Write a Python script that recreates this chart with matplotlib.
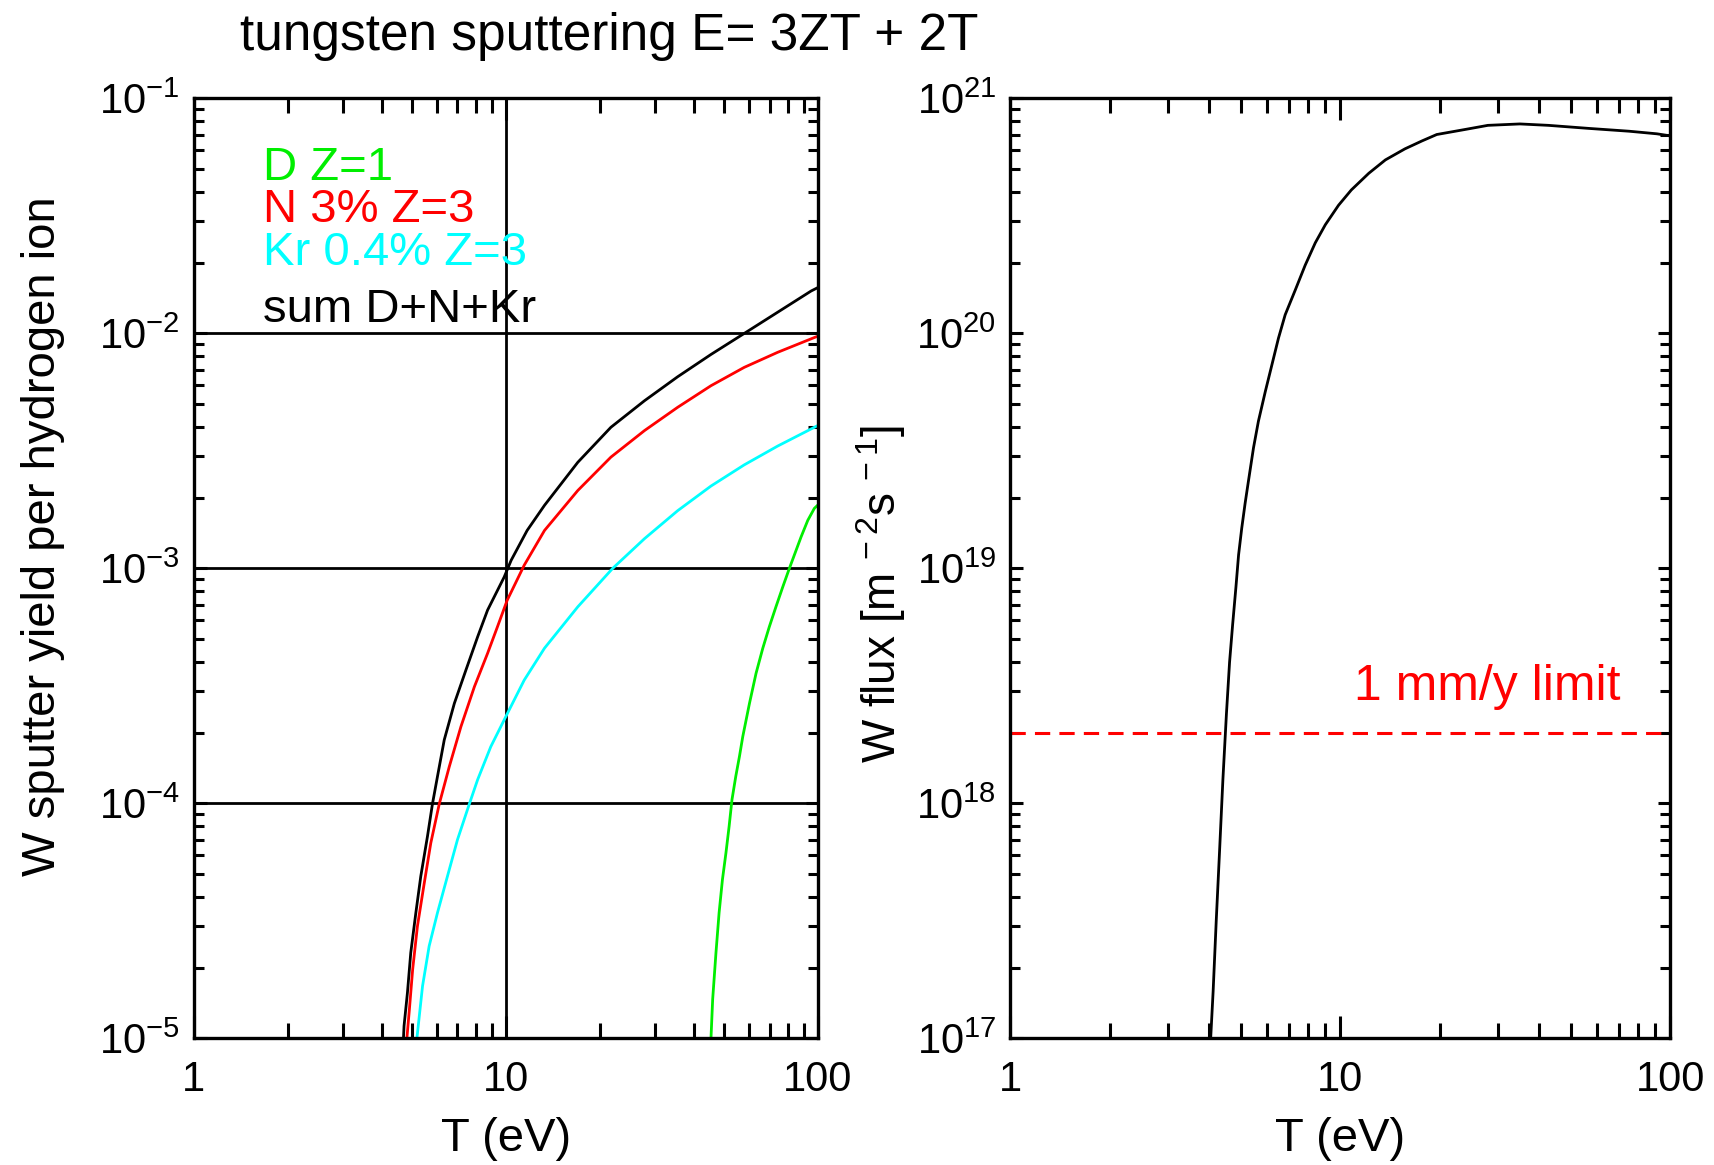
import numpy as np
import matplotlib
matplotlib.use('Agg')
import matplotlib.pyplot as plt
from matplotlib.ticker import LogLocator, NullFormatter

plt.rcParams['font.family'] = ['Liberation Sans', 'DejaVu Sans']
plt.rcParams['mathtext.default'] = 'regular'

# ---- data ----
# W sputter yield per hydrogen ion vs T (eV), log10 of yield
T_sum = [4.70, 4.72, 4.84, 4.96, 5.15, 5.34, 5.61, 5.82, 6.04, 6.35, 6.84, 7.45, 8.12, 8.74, 9.88,
         10.4, 11.7, 13.3, 17.0, 21.7, 27.8, 35.5, 45.4, 58.1, 95, 100]
logY_sum = [-5.0, -4.948, -4.806, -4.636, -4.466, -4.311, -4.141, -4.003, -3.886, -3.730, -3.575, -3.433,
            -3.292, -3.178, -3.037, -2.966, -2.839, -2.732, -2.549, -2.400, -2.287, -2.185, -2.090, -2.0,
            -1.820, -1.805]

T_N = [4.82, 4.91, 5.03, 5.21, 5.48, 5.75, 6.12, 6.59, 7.18, 7.93, 8.74, 9.4, 10.1, 11.45, 13.3,
       17.0, 21.7, 27.8, 35.5, 45.4, 58.0, 74.2, 97.3, 100]
logY_N = [-5.0, -4.877, -4.707, -4.523, -4.339, -4.169, -4.003, -3.844, -3.674, -3.504, -3.362, -3.249,
          -3.136, -2.987, -2.839, -2.669, -2.527, -2.414, -2.315, -2.223, -2.145, -2.081, -2.018, -2.012]

T_Kr = [5.19, 5.41, 5.68, 6.04, 6.5, 7.0, 7.64, 8.12, 8.95, 10, 11.45, 13.3, 17.0, 22.0, 27.8,
        35.5, 45.4, 58, 74.2, 97.3, 100]
logY_Kr = [-5.0, -4.778, -4.608, -4.466, -4.311, -4.155, -4.003, -3.900, -3.759, -3.631, -3.476, -3.34,
           -3.164, -3.0, -2.874, -2.755, -2.650, -2.560, -2.480, -2.400, -2.392]

T_D = [45.4, 45.97, 47.1, 48.2, 49.4, 50.7, 51.9, 53.0, 54.5, 56.0, 57.4, 60.3, 63.3, 66.5, 69.8,
       73.3, 77.1, 80.9, 88.2, 92.7, 97.3, 100]
logY_D = [-5.0, -4.834, -4.636, -4.466, -4.325, -4.211, -4.098, -3.985, -3.886, -3.801, -3.716, -3.575,
          -3.447, -3.341, -3.249, -3.164, -3.079, -3.001, -2.867, -2.796, -2.745, -2.73]

# W flux (m^-2 s^-1) vs T (eV), log10 of flux
T_flux = [4.05, 4.12, 4.21, 4.31, 4.41, 4.52, 4.62, 4.72, 4.83, 4.92, 5.03, 5.15, 5.27, 5.46, 5.65,
          5.93, 6.21, 6.50, 6.81, 7.31, 7.83, 8.40, 9.01, 9.88, 10.8, 12.2, 13.7, 15.7, 17.7, 19.6,
          24, 28, 35, 42.7, 56.6, 75, 91, 100]
logF_flux = [17.0, 17.2, 17.5, 17.8, 18.1, 18.38, 18.6, 18.76, 18.920, 19.057, 19.171,
             19.277, 19.371, 19.513, 19.626, 19.753, 19.867, 19.980, 20.079, 20.185, 20.29, 20.385,
             20.462, 20.545, 20.610, 20.681, 20.738, 20.785, 20.819, 20.846, 20.868, 20.885, 20.891,
             20.885, 20.872, 20.860, 20.849, 20.840]
limit_flux = 2e18

legend_labels = ['D Z=1', 'N 3% Z=3', 'Kr 0.4% Z=3', 'sum D+N+Kr']
legend_colors = ['#00ee00', '#ff0000', '#00ffff', 'black']

fig = plt.figure(figsize=(17.15, 11.65), dpi=100)
ax1 = fig.add_axes([0.1129, 0.1088, 0.3641, 0.8068])
ax2 = fig.add_axes([0.589, 0.1088, 0.385, 0.8068])

FS = 30
LFS = 34


def style_axis(ax):
    ax.set_xscale('log')
    ax.set_yscale('log')
    ax.xaxis.set_minor_locator(LogLocator(base=10, subs=np.arange(2, 10)))
    ax.yaxis.set_minor_locator(LogLocator(base=10, subs=np.arange(2, 10)))
    ax.xaxis.set_minor_formatter(NullFormatter())
    ax.yaxis.set_minor_formatter(NullFormatter())
    ax.tick_params(which='both', direction='in', top=True, right=True, width=2.2, labelsize=FS)
    ax.tick_params(axis='x', which='minor', length=11)
    ax.tick_params(axis='y', which='minor', length=7)
    ax.tick_params(axis='x', which='major', length=16, pad=16)
    ax.tick_params(axis='y', which='major', length=9, pad=10)
    for s in ax.spines.values():
        s.set_linewidth(2.4)
    ax.set_xlim(1, 100)
    ax.set_xticks([1, 10, 100])
    ax.set_xticklabels(['1', '10', '100'])
    ax.set_xlabel('T (eV)', fontsize=LFS, labelpad=12)


# ---- left panel: sputter yield ----
style_axis(ax1)
ax1.set_ylim(1e-5, 1e-1)
yt = [1e-5, 1e-4, 1e-3, 1e-2, 1e-1]
ax1.set_yticks(yt)
ax1.set_yticklabels([r'$10^{%d}$' % int(np.log10(v)) for v in yt])
ax1.grid(which='major', color='black', linewidth=2)

ax1.plot(T_D, 10 ** np.array(logY_D), color=legend_colors[0], lw=2)
ax1.plot(T_Kr, 10 ** np.array(logY_Kr), color=legend_colors[2], lw=2)
ax1.plot(T_N, 10 ** np.array(logY_N), color=legend_colors[1], lw=2)
ax1.plot(T_sum, 10 ** np.array(logY_sum), color=legend_colors[3], lw=2)

legend_y = [0.913, 0.868, 0.823, 0.762]
for lab, col, yy in zip(legend_labels, legend_colors, legend_y):
    ax1.text(0.111, yy, lab, color=col, fontsize=LFS, transform=ax1.transAxes,
             ha='left', va='baseline')

# ---- right panel: W flux ----
style_axis(ax2)
ax2.set_ylim(1e17, 1e21)
yt2 = [1e17, 1e18, 1e19, 1e20, 1e21]
ax2.set_yticks(yt2)
ax2.set_yticklabels([r'$10^{%d}$' % int(np.log10(v)) for v in yt2])
ax2.plot(T_flux, 10 ** np.array(logF_flux), color='black', lw=2)
ax2.axhline(limit_flux, color='red', lw=2.2, ls=(0, (5, 3)))
ax2.text(0.925, 0.36, '1 mm/y limit', color='red', fontsize=36, transform=ax2.transAxes,
         ha='right', va='baseline')

# labels and title
fig.text(0.025, 1 - 536 / 1165, 'W sputter yield per hydrogen ion', rotation=90,
         fontsize=LFS, ha='center', va='center')
fig.text(881 / 1715, 1 - 594 / 1165, r'W flux [m$^{\,-2}$s$^{\,-1}$]', rotation=90,
         fontsize=33, ha='center', va='center')
fig.text(0.355, 0.957, 'tungsten sputtering E= 3ZT + 2T', fontsize=37,
         ha='center', va='baseline')

fig.savefig('out.png', dpi=100)
